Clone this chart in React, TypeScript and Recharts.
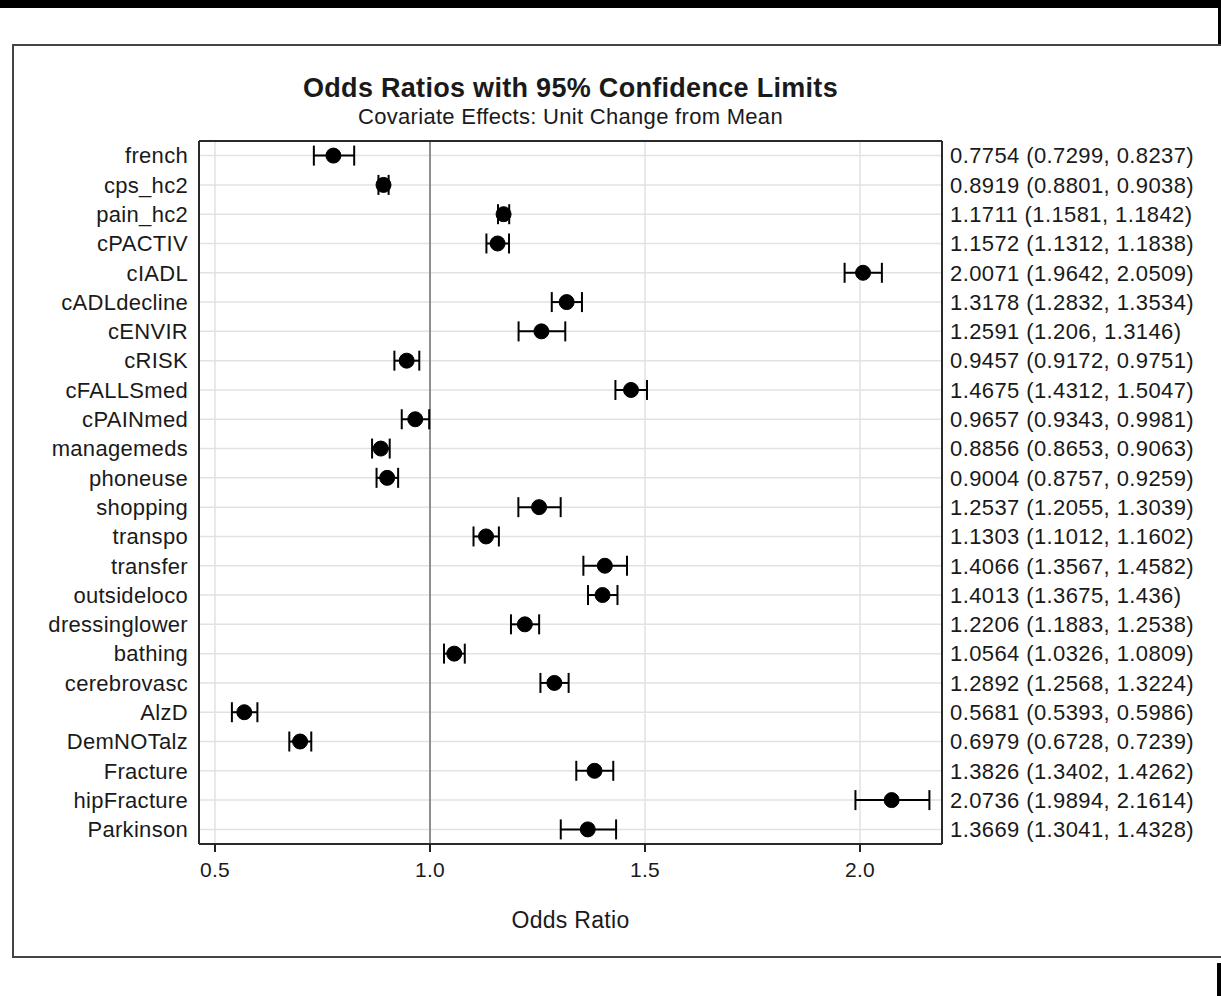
import React from 'react'
import {
  ComposedChart,
  Line,
  ErrorBar,
  XAxis,
  YAxis,
  CartesianGrid,
  ReferenceLine,
} from 'recharts'

// Covariates, top to bottom
const covariates = [
  'french', 'cps_hc2', 'pain_hc2', 'cPACTIV', 'cIADL', 'cADLdecline', 'cENVIR', 'cRISK',
  'cFALLSmed', 'cPAINmed', 'managemeds', 'phoneuse', 'shopping', 'transpo', 'transfer',
  'outsideloco', 'dressinglower', 'bathing', 'cerebrovasc', 'AlzD', 'DemNOTalz', 'Fracture',
  'hipFracture', 'Parkinson',
]

const oddsRatio = [
  0.7754, 0.8919, 1.1711, 1.1572, 2.0071, 1.3178, 1.2591, 0.9457,
  1.4675, 0.9657, 0.8856, 0.9004, 1.2537, 1.1303, 1.4066,
  1.4013, 1.2206, 1.0564, 1.2892, 0.5681, 0.6979, 1.3826,
  2.0736, 1.3669,
]

const lowerCL = [
  0.7299, 0.8801, 1.1581, 1.1312, 1.9642, 1.2832, 1.206, 0.9172,
  1.4312, 0.9343, 0.8653, 0.8757, 1.2055, 1.1012, 1.3567,
  1.3675, 1.1883, 1.0326, 1.2568, 0.5393, 0.6728, 1.3402,
  1.9894, 1.3041,
]

const upperCL = [
  0.8237, 0.9038, 1.1842, 1.1838, 2.0509, 1.3534, 1.3146, 0.9751,
  1.5047, 0.9981, 0.9063, 0.9259, 1.3039, 1.1602, 1.4582,
  1.436, 1.2538, 1.0809, 1.3224, 0.5986, 0.7239, 1.4262,
  2.1614, 1.4328,
]

const xTicks = [0.5, 1.0, 1.5, 2.0]
const xDomain: [number, number] = [0.4628, 2.1907]

const rows = covariates.map((name, i) => ({
  name,
  or: oddsRatio[i],
  err: [oddsRatio[i] - lowerCL[i], upperCL[i] - oddsRatio[i]],
}))

const ciText: Record<string, string> = {}
covariates.forEach((name, i) => {
  ciText[name] = `${oddsRatio[i]} (${lowerCL[i]}, ${upperCL[i]})`
})

const FONT = '"Liberation Sans", Arial, Helvetica, sans-serif'
const INK = '#1a1a1a'
const FRAME = { stroke: '#2a2a2a', strokeWidth: 2 }
// half a row, so the first and last covariates sit mid-band
const rowPad = { top: 14.6, bottom: 14.6 }

export default function App() {
  return (
    <div style={{ position: 'absolute', left: 0, top: 0, width: 1221, height: 996, background: '#fff', overflow: 'hidden', fontFamily: FONT }}>
      {/* scan edges */}
      <div style={{ position: 'absolute', left: 0, top: 0, width: 1221, height: 8, background: '#000' }} />
      <div style={{ position: 'absolute', left: 1218, top: 0, width: 3, height: 44, background: '#000' }} />
      <div style={{ position: 'absolute', left: 1217, top: 963, width: 4, height: 33, background: '#000' }} />
      {/* outer frame */}
      <div style={{ position: 'absolute', left: 12, top: 44, width: 1220, height: 914, border: '2px solid #444', boxSizing: 'border-box' }} />

      <div style={{ position: 'absolute', left: 0, top: 72, width: 1141, textAlign: 'center', fontSize: 27, fontWeight: 700, letterSpacing: 0.3, color: INK, lineHeight: '32px' }}>
        Odds Ratios with 95% Confidence Limits
      </div>
      <div style={{ position: 'absolute', left: 0, top: 104, width: 1141, textAlign: 'center', fontSize: 22, letterSpacing: 0.3, color: INK, lineHeight: '26px' }}>
        Covariate Effects: Unit Change from Mean
      </div>

      <div style={{ position: 'absolute', left: 0, top: 0 }}>
        <ComposedChart
          width={1221}
          height={996}
          data={rows}
          layout="vertical"
          margin={{ top: 140, right: 0, bottom: 52, left: 0 }}
        >
          <CartesianGrid yAxisId="left" stroke="#e2e2e2" strokeWidth={1.5} />
          <XAxis
            type="number"
            domain={xDomain}
            ticks={xTicks}
            allowDataOverflow
            tickFormatter={(v: number) => v.toFixed(1)}
            tick={{ fill: INK, fontSize: 21, fontFamily: FONT, letterSpacing: 0.3 }}
            tickSize={8}
            tickMargin={10}
            tickLine={{ stroke: '#222', strokeWidth: 2 }}
            axisLine={FRAME}
            height={100}
            label={{ value: 'Odds Ratio', position: 'insideBottom', offset: 16, fill: INK, fontSize: 23, fontFamily: FONT, letterSpacing: 0.3 }}
          />
          {/* top edge of the plot box */}
          <XAxis
            xAxisId="top"
            orientation="top"
            type="number"
            domain={xDomain}
            ticks={xTicks}
            allowDataOverflow
            height={1}
            tick={false}
            tickLine={false}
            axisLine={FRAME}
          />
          <YAxis
            yAxisId="left"
            type="category"
            dataKey="name"
            width={199}
            padding={rowPad}
            interval={0}
            tickSize={0}
            tickMargin={11}
            tickLine={false}
            axisLine={FRAME}
            tick={{ fill: INK, fontSize: 22, fontFamily: FONT, letterSpacing: 0.3 }}
          />
          <YAxis
            yAxisId="right"
            orientation="right"
            type="category"
            dataKey="name"
            width={279}
            padding={rowPad}
            interval={0}
            tickSize={0}
            tickMargin={8}
            tickLine={false}
            axisLine={FRAME}
            tickFormatter={(v: string) => ciText[v]}
            tick={{ fill: INK, fontSize: 22, fontFamily: FONT, letterSpacing: 0.4, textAnchor: 'start' }}
          />
          <ReferenceLine yAxisId="left" x={1} stroke="#707070" strokeWidth={1.5} />
          <Line
            yAxisId="left"
            dataKey="or"
            stroke="none"
            isAnimationActive={false}
            dot={{ r: 7.5, fill: '#000', stroke: '#000', strokeWidth: 1 }}
            activeDot={false}
          >
            <ErrorBar dataKey="err" direction="x" width={10} stroke="#000" strokeWidth={2} isAnimationActive={false} />
          </Line>
        </ComposedChart>
      </div>
    </div>
  )
}
